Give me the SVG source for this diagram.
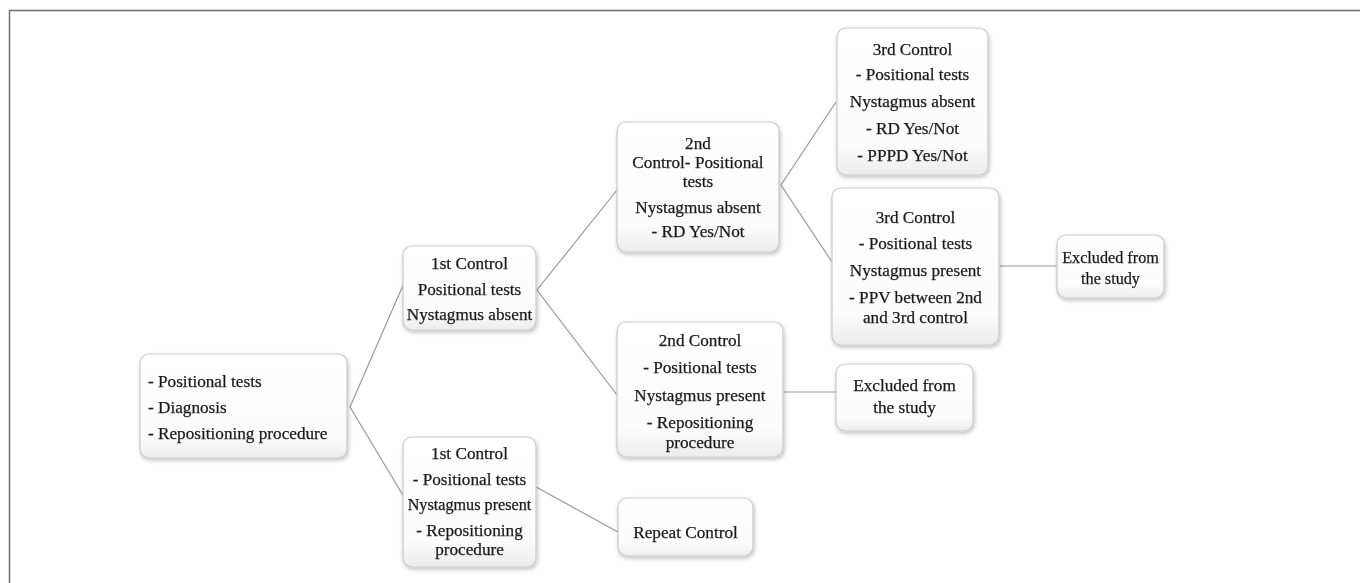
<svg xmlns="http://www.w3.org/2000/svg" width="1360" height="583" viewBox="0 0 1360 583">
<style>
.box{fill:url(#g);stroke:#c9c9c9;stroke-width:1.2}
.t{font-family:"Liberation Serif","Times New Roman",serif;font-size:17.2px;fill:#1a1a1a;stroke:#1a1a1a;stroke-width:0.25;text-anchor:middle}
.l{text-anchor:start}
.s{font-size:16.2px}
.c{fill:none;stroke:#9a9a9a;stroke-width:1.2}
</style>
<defs>
<linearGradient id="g" x1="0" y1="0" x2="0" y2="1">
<stop offset="0" stop-color="#ffffff"/>
<stop offset="0.8" stop-color="#fbfbfb"/>
<stop offset="1" stop-color="#ececec"/>
</linearGradient>
<filter id="sh" x="-10%" y="-10%" width="125%" height="125%">
<feGaussianBlur in="SourceAlpha" stdDeviation="2"/>
<feOffset dx="1" dy="2"/>
<feComponentTransfer><feFuncA type="linear" slope="0.25"/></feComponentTransfer>
<feMerge><feMergeNode/><feMergeNode in="SourceGraphic"/></feMerge>
</filter>
</defs>
<rect width="1360" height="583" fill="#fff"/>
<path d="M9.5 583 V10.5 H1360" fill="none" stroke="#6e6e6e" stroke-width="1.5"/>
<g id="connectors">
<polyline class="c" points="404,283 350,407 404,497"/>
<polyline class="c" points="617,190 537,290 617,395"/>
<polyline class="c" points="836,102 781,185 832,262"/>
<line class="c" x1="999" y1="266" x2="1057" y2="266"/>
<line class="c" x1="783" y1="392" x2="836" y2="392"/>
<line class="c" x1="536" y1="487" x2="618" y2="532"/>
</g>
<g id="root" filter="url(#sh)">
<rect class="box" x="140" y="354" width="207" height="104" rx="9"/>
<text class="t l" x="148" y="387">- Positional tests</text>
<text class="t l" x="148" y="413">- Diagnosis</text>
<text class="t l" x="148" y="439">- Repositioning procedure</text>
</g>
<g id="c1a" filter="url(#sh)">
<rect class="box" x="403" y="246" width="133" height="84" rx="9"/>
<text class="t" x="469.5" y="269">1st Control</text>
<text class="t" x="469.5" y="295">Positional tests</text>
<text class="t" x="469.5" y="320">Nystagmus absent</text>
</g>
<g id="c1p" filter="url(#sh)">
<rect class="box" x="403" y="437" width="133" height="130" rx="9"/>
<text class="t" x="469.5" y="459">1st Control</text>
<text class="t" x="469.5" y="485">- Positional tests</text>
<text class="t s" x="469.5" y="510">Nystagmus present</text>
<text class="t" x="469.5" y="536">- Repositioning</text>
<text class="t" x="469.5" y="555">procedure</text>
</g>
<g id="c2a" filter="url(#sh)">
<rect class="box" x="617" y="122" width="162" height="130" rx="9"/>
<text class="t" x="698" y="149">2nd</text>
<text class="t" x="698" y="168">Control- Positional</text>
<text class="t" x="698" y="187">tests</text>
<text class="t" x="698" y="213">Nystagmus absent</text>
<text class="t" x="698" y="237">- RD Yes/Not</text>
</g>
<g id="c2p" filter="url(#sh)">
<rect class="box" x="617" y="322" width="166" height="135" rx="9"/>
<text class="t" x="700" y="346">2nd Control</text>
<text class="t" x="700" y="373">- Positional tests</text>
<text class="t" x="700" y="401">Nystagmus present</text>
<text class="t" x="700" y="428">- Repositioning</text>
<text class="t" x="700" y="448">procedure</text>
</g>
<g id="repeat" filter="url(#sh)">
<rect class="box" x="618" y="498" width="135" height="58" rx="9"/>
<text class="t" x="685.5" y="538">Repeat Control</text>
</g>
<g id="excl2" filter="url(#sh)">
<rect class="box" x="836" y="364" width="137" height="67" rx="9"/>
<text class="t" x="904.5" y="391">Excluded from</text>
<text class="t" x="904.5" y="413">the study</text>
</g>
<g id="c3a" filter="url(#sh)">
<rect class="box" x="837" y="28" width="151" height="147" rx="9"/>
<text class="t" x="912.5" y="55">3rd Control</text>
<text class="t" x="912.5" y="80">- Positional tests</text>
<text class="t" x="912.5" y="107">Nystagmus absent</text>
<text class="t" x="912.5" y="134">- RD Yes/Not</text>
<text class="t" x="912.5" y="161">- PPPD Yes/Not</text>
</g>
<g id="c3p" filter="url(#sh)">
<rect class="box" x="832" y="188" width="167" height="157" rx="9"/>
<text class="t" x="915.5" y="223">3rd Control</text>
<text class="t" x="915.5" y="249">- Positional tests</text>
<text class="t" x="915.5" y="276">Nystagmus present</text>
<text class="t" x="915.5" y="303">- PPV between 2nd</text>
<text class="t" x="915.5" y="323">and 3rd control</text>
</g>
<g id="excl3" filter="url(#sh)">
<rect class="box" x="1057" y="235" width="107" height="63" rx="9"/>
<text class="t s" x="1110.5" y="263">Excluded from</text>
<text class="t s" x="1110.5" y="284">the study</text>
</g>
</svg>
